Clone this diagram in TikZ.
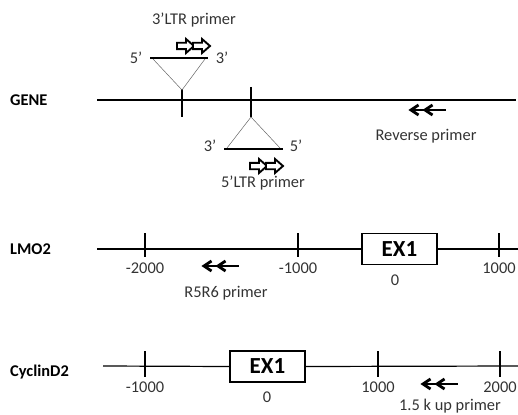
\documentclass[tikz,border=0pt]{standalone}
\usepackage{fontspec}
\setmainfont{Carlito}
\tikzset{
 lbl/.style={font=\fontsize{16.4}{18}\selectfont, text=black!80, inner sep=0},
 gname/.style={font=\fontsize{16.4}{18}\selectfont\bfseries, inner sep=0, anchor=west},
 exbox/.style={draw, line width=1.8pt, minimum width=75pt, minimum height=31pt, font=\fontsize{23}{26}\selectfont\bfseries, inner sep=0},
 axis/.style={line width=1.2pt},
 tickl/.style={line width=1.2pt},
 tri/.style={line width=0.5pt, draw=black!60},
 base/.style={line width=2.6pt},
 pics/openarr/.style={code={\draw[line width=1.9pt, fill=white, line join=miter] (0,-3.2) -- (9,-3.2) -- (9,-7) -- (17,0) -- (9,7) -- (9,3.2) -- (0,3.2) -- cycle;}},
 pics/revarr/.style={code={\draw[line width=2.8pt] (1,0) -- (36,0); \draw[line width=2.8pt, line join=miter] (8.5,-5) -- (1,0) -- (8.5,5); \draw[line width=2.8pt, line join=miter] (22.5,-5) -- (15,0) -- (22.5,5);}}
}
\begin{document}
\begin{tikzpicture}[x=1pt,y=-1pt]
\useasboundingbox (0,0) rectangle (518,414);
% ---------- GENE ----------
\node[gname] (gene) at (10,100) {GENE};
\coordinate (gA) at (97,100);
\coordinate (gB) at (516,100);
\draw[axis] (gA) -- (gB);
\coordinate (t1a) at (182,89); \coordinate (t1b) at (182,117);
\draw[tickl] (t1a) -- (t1b);
\coordinate (t2a) at (251,87); \coordinate (t2b) at (251,117);
\draw[tickl] (t2a) -- (t2b);
% upper insert (3'LTR)
\coordinate (u1) at (150,58); \coordinate (u2) at (208,58); \coordinate (uap) at (182,90);
\draw[tri] (153,59) -- (uap) -- (205,59);
\draw[base] (u1) -- (u2);
\node[lbl] (u5) at (136,58) {5’};
\node[lbl] (u3) at (222,58) {3’};
\pic at (177,46) {openarr};
\pic at (193,46) {openarr};
\node[lbl] (ultr) at (194,20) {3’LTR primer};
% lower insert (5'LTR)
\coordinate (l1) at (224,149); \coordinate (l2) at (283,149); \coordinate (lap) at (251,117);
\draw[tri] (227,148) -- (lap) -- (280,148);
\draw[base] (l1) -- (l2);
\node[lbl] (l3) at (210,146) {3’};
\node[lbl] (l5) at (296,146) {5’};
\pic at (250,166) {openarr};
\pic at (266,166) {openarr};
\node[lbl] (lltr) at (263,183) {5’LTR primer};
% reverse primer
\pic at (410,110) {revarr};
\node[lbl] (rev) at (426,136) {Reverse primer};
% ---------- LMO2 ----------
\node[gname] (lmo) at (10,249) {LMO2};
\node[exbox] (ex1a) at (399.5,249) {EX1};
\coordinate (mA) at (97,249); \coordinate (mB) at (518,249);
\draw[axis] (mA) -- (ex1a.west);
\draw[axis] (ex1a.east) -- (mB);
\foreach \x/\t in {145/-2000, 298/-1000, 499/1000}{
  \draw[tickl] (\x,233) -- (\x,257);
  \node[lbl] at (\x,268) {\t};
}
\node[lbl] (z1) at (395,280) {0};
\pic at (203,266) {revarr};
\node[lbl] (r5r6) at (226,293) {R5R6 primer};
% ---------- CyclinD2 ----------
\node[gname] (ccd) at (10,372) {CyclinD2};
\node[exbox] (ex1b) at (267.5,366.5) {EX1};
\coordinate (cA) at (103,366); \coordinate (cB) at (518,366);
\draw[axis] (cA) -- (ex1b.west);
\draw[axis] (ex1b.east) -- (cB);
\foreach \x/\t in {145/-1000, 378/1000, 500/2000}{
  \draw[tickl] (\x,351) -- (\x,377);
  \node[lbl] at (\x,387) {\t};
}
\node[lbl] (z2) at (267,397) {0};
\pic at (422,384) {revarr};
\node[lbl] (up) at (450,406) {1.5 k up primer};
\end{tikzpicture}
\end{document}
